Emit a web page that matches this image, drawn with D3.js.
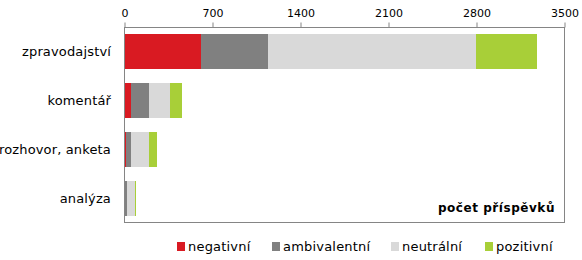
<!DOCTYPE html>
<html>
<head>
  <meta charset="utf-8">
  <style>
    body { margin: 0; background: #fff; }
    svg text { font-family: "DejaVu Sans", sans-serif; fill: #000; }
  </style>
</head>
<body>
  <div id="chart"></div>

  <script src="https://d3js.org/d3.v7.min.js"></script>
  <script>
    // data
    const categories = ["zpravodajství", "komentář", "rozhovor, anketa", "analýza"];
    const seriesNames = ["negativní", "ambivalentní", "neutrální", "pozitivní"];
    const negativni = [610, 53, 11, 2];
    const ambivalentni = [533, 143, 42, 17];
    const neutralni = [1655, 168, 143, 64];
    const pozitivni = [485, 95, 64, 8];
    const xTicks = [0, 700, 1400, 2100, 2800, 3500];
    const colors = ["#d91a22", "#808080", "#d9d9d9", "#a8cf38"];

    const width = 582, height = 260;
    const m = { top: 27.5, right: 17.5, bottom: 37.5, left: 124.5 };

    const svg = d3.select("#chart").append("svg")
      .attr("width", width)
      .attr("height", height);

    const rows = categories.map((c, i) => ({
      cat: c,
      "negativní": negativni[i],
      "ambivalentní": ambivalentni[i],
      "neutrální": neutralni[i],
      "pozitivní": pozitivni[i]
    }));
    const stacked = d3.stack().keys(seriesNames)(rows);

    const x = d3.scaleLinear().domain([0, 3500]).range([m.left, width - m.right]);
    const y = d3.scaleBand().domain(categories)
      .range([m.top, height - m.bottom])
      .paddingInner(0.29).paddingOuter(0.14);
    const color = d3.scaleOrdinal().domain(seriesNames).range(colors);

    // bars
    svg.append("g").selectAll("g")
      .data(stacked)
      .join("g")
      .attr("fill", d => color(d.key))
      .selectAll("rect")
      .data(d => d)
      .join("rect")
      .attr("x", d => x(d[0]))
      .attr("y", d => y(d.data.cat))
      .attr("width", d => x(d[1]) - x(d[0]))
      .attr("height", y.bandwidth())
      .attr("shape-rendering", "crispEdges");

    // frame
    svg.append("rect")
      .attr("x", m.left)
      .attr("y", m.top)
      .attr("width", width - m.right - m.left)
      .attr("height", height - m.bottom - m.top)
      .attr("fill", "none")
      .attr("stroke", "#858585")
      .attr("stroke-width", 1);

    // top axis
    const ax = svg.append("g")
      .attr("transform", `translate(0,${m.top})`)
      .call(d3.axisTop(x).tickValues(xTicks).tickSize(5).tickPadding(6).tickFormat(d3.format("d")));
    ax.select(".domain").remove();
    ax.selectAll(".tick line").attr("stroke", "#858585");
    ax.selectAll(".tick text")
      .style("font-family", "DejaVu Sans, sans-serif")
      .style("font-size", "11px");

    // category labels
    svg.append("g").selectAll("text")
      .data(categories)
      .join("text")
      .attr("x", 111)
      .attr("y", d => y(d) + y.bandwidth() / 2)
      .attr("dy", "0.35em")
      .attr("text-anchor", "end")
      .style("font-size", "13px")
      .style("letter-spacing", "0.15px")
      .text(d => d);

    // axis title
    svg.append("text")
      .attr("x", 555)
      .attr("y", 212)
      .attr("text-anchor", "end")
      .style("font-size", "12px")
      .style("font-weight", "bold")
      .style("letter-spacing", "0.55px")
      .text("počet příspěvků");

    // legend
    const legX = [177, 272, 391, 485];
    const leg = svg.append("g").selectAll("g")
      .data(seriesNames)
      .join("g")
      .attr("transform", (d, i) => `translate(${legX[i]},242)`);
    leg.append("rect")
      .attr("width", 8)
      .attr("height", 9)
      .attr("fill", d => color(d));
    leg.append("text")
      .attr("x", 11)
      .attr("y", 9)
      .style("font-size", "13px")
      .style("letter-spacing", "0.2px")
      .text(d => d);
  </script>
</body>
</html>
